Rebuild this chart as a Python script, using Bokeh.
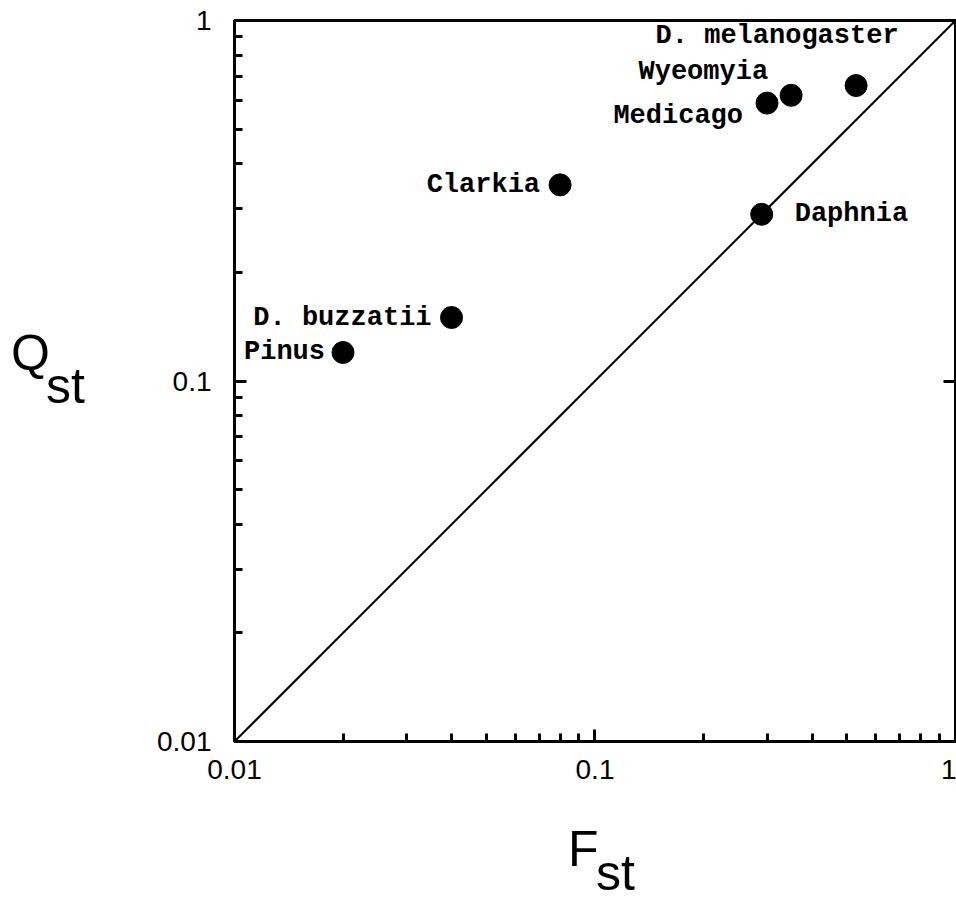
from bokeh.plotting import figure
from bokeh.models import Range1d, LogAxis, FixedTicker, CustomJSTickFormatter, ColumnDataSource, Div
from bokeh.layouts import row, column
from bokeh.core.properties import value
from bokeh.embed import file_html
from bokeh.resources import INLINE

# ---- data ----
species = ["Pinus", "D. buzzatii", "Clarkia", "Daphnia", "Medicago", "Wyeomyia", "D. melanogaster"]
fst = [0.020, 0.040, 0.080, 0.29, 0.30, 0.35, 0.53]
qst = [0.12, 0.15, 0.35, 0.29, 0.59, 0.62, 0.66]
diag = [0.01, 1.0]

# axis extent and tick values
axis_min, axis_max = 0.01, 1.000001   # tiny excess keeps the log ticker on decades
major_ticks = [0.01, 0.1, 1]

# ---- label styling (screen-pixel offsets from each point) ----
label_align = ["right", "right", "right", "left", "right", "right", "center"]
label_dx = [-18, -20, -20, 33, -24, -23, -79]
label_dy = [0, 0, 0, 0, 13, -23, -50]

src = ColumnDataSource(dict(x=fst, y=qst, name=species,
                            align=label_align, dx=label_dx, dy=label_dy))

LEFT_W = 100          # width of the left title column
P_W, P_H = 856, 801   # main figure
F_H = 100             # bottom title strip

p = figure(width=P_W, height=P_H, x_axis_type="log", y_axis_type="log",
           x_range=Range1d(axis_min, axis_max), y_range=Range1d(axis_min, axis_max),
           output_backend="svg", toolbar_location=None,
           min_border_left=134, min_border_top=20, min_border_bottom=60,
           min_border_right=1, background_fill_color="white",
           border_fill_color="white")
p.grid.visible = False
p.outline_line_color = "black"
p.outline_line_width = 3

fmt = CustomJSTickFormatter(code="return Number(tick.toPrecision(1)).toString();")
for ax in (p.xaxis[0], p.yaxis[0]):
    ax.formatter = fmt
    ax.axis_line_width = 3
    ax.axis_line_color = "black"
    ax.major_tick_in = 12
    ax.major_tick_out = 0
    ax.minor_tick_in = 8
    ax.minor_tick_out = 0
    ax.major_tick_line_width = 3
    ax.minor_tick_line_width = 3
    ax.major_tick_line_color = "black"
    ax.minor_tick_line_color = "black"
    ax.major_label_text_font = "Liberation Sans"
    ax.major_label_text_font_size = "28px"
    ax.major_label_text_color = "black"
p.xaxis[0].major_label_standoff = 18
p.yaxis[0].major_label_standoff = 23

# right axis: single inward major tick
rax = LogAxis(ticker=FixedTicker(ticks=major_ticks),
              formatter=CustomJSTickFormatter(code="return '';"))
rax.major_tick_in = 12
rax.major_tick_out = 0
rax.minor_tick_in = 0
rax.minor_tick_out = 0
rax.major_tick_line_width = 3
rax.axis_line_width = 3
rax.major_label_standoff = 0
rax.major_label_text_font_size = "0px"
p.add_layout(rax, "right")

# diagonal 1:1 line
p.line(diag, diag, line_color="black", line_width=2)

# points
p.scatter("x", "y", source=src, size=22, fill_color="black", line_color="black")

# point labels
p.text("x", "y", text="name", source=src, text_align="align",
       x_offset="dx", y_offset="dy", text_baseline="middle",
       text_font=value("Liberation Mono"), text_font_style="bold",
       text_font_size="27px", text_color="black")

# axis titles with subscripts, as SVG text in Divs
FONT = "font-family=\"Liberation Sans\" font-size=\"50\" fill=\"black\""
q_svg = (f'<svg width="{LEFT_W}" height="{P_H + F_H}" style="display:block">'
         f'<text x="11" y="370" {FONT}>Q</text>'
         f'<text x="46" y="403" {FONT}>st</text></svg>')
f_svg = (f'<svg width="{P_W}" height="{F_H}" style="display:block">'
         f'<text x="468" y="65" {FONT}>F</text>'
         f'<text x="496" y="89" {FONT}>st</text></svg>')

div_q = Div(text=q_svg, width=LEFT_W, height=P_H + F_H, margin=0)
div_f = Div(text=f_svg, width=P_W, height=F_H, margin=0)

layout = row(div_q, column(p, div_f, spacing=0), spacing=0)

open("out.html", "w").write(file_html(layout, INLINE))
